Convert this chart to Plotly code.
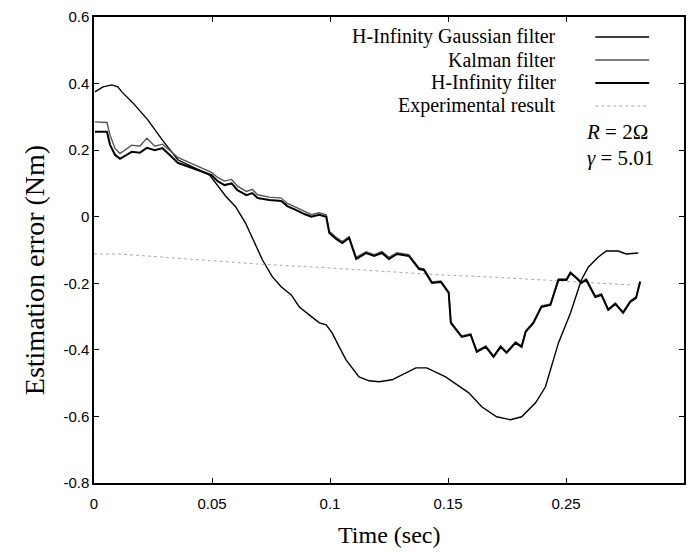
import plotly.graph_objects as go

# ---- data (time in axis units, error in Nm) ----
t_gauss = [0.0004, 0.0038, 0.0076, 0.0101, 0.0118, 0.0165, 0.0228, 0.029, 0.0355, 0.046, 0.049,
           0.056, 0.060, 0.0642, 0.068, 0.0714, 0.0756, 0.0794, 0.0836, 0.087, 0.0912, 0.0955,
           0.0984, 0.1009, 0.1039, 0.1068, 0.1123, 0.1166, 0.1208, 0.1263, 0.1364, 0.141, 0.149,
           0.1588, 0.1643, 0.1706, 0.1765, 0.1812, 0.1871, 0.1913, 0.1968, 0.2019, 0.2065, 0.2095,
           0.2137, 0.2171, 0.2221, 0.2255, 0.2306]
v_gauss = [0.375, 0.390, 0.396, 0.390, 0.375, 0.342, 0.291, 0.23, 0.171, 0.135, 0.125,
           0.06, 0.03, -0.019, -0.079, -0.13, -0.181, -0.211, -0.235, -0.271, -0.295, -0.319,
           -0.325, -0.349, -0.391, -0.43, -0.481, -0.493, -0.496, -0.49, -0.454, -0.454, -0.481,
           -0.529, -0.571, -0.601, -0.61, -0.601, -0.559, -0.511, -0.379, -0.289, -0.19, -0.151,
           -0.121, -0.103, -0.103, -0.112, -0.109]

t_filt = [0.0004, 0.0055, 0.0068, 0.0089, 0.011, 0.0139, 0.016, 0.0194, 0.0224, 0.0258, 0.029,
          0.032, 0.0355, 0.046, 0.0498, 0.0524, 0.0553, 0.0583, 0.0608, 0.0646, 0.0671, 0.0693,
          0.0743, 0.0794, 0.0819, 0.0857, 0.0891, 0.0921, 0.0954, 0.0984, 0.0997, 0.1026, 0.1052,
          0.1081, 0.1111, 0.1153, 0.1187, 0.122, 0.125, 0.1284, 0.1334, 0.1377, 0.1398, 0.1432,
          0.147, 0.1503, 0.1512, 0.1558, 0.1596, 0.1622, 0.166, 0.1693, 0.1723, 0.1748, 0.1786,
          0.1812, 0.1829, 0.1862, 0.1896, 0.1934, 0.1968, 0.2002, 0.2019, 0.2044, 0.2065, 0.2086,
          0.2124, 0.215, 0.2179, 0.2209, 0.2242, 0.2272, 0.2297, 0.2314]
v_hinf = [0.255, 0.255, 0.216, 0.186, 0.174, 0.186, 0.195, 0.192, 0.207, 0.2, 0.206,
          0.186, 0.162, 0.135, 0.125, 0.107, 0.095, 0.1, 0.08, 0.065, 0.071, 0.056,
          0.05, 0.047, 0.032, 0.02, 0.008, 0.0, 0.006, 0.0, -0.049, -0.067, -0.079,
          -0.064, -0.127, -0.109, -0.118, -0.109, -0.127, -0.112, -0.118, -0.157, -0.16, -0.199,
          -0.196, -0.229, -0.319, -0.361, -0.355, -0.406, -0.391, -0.421, -0.391, -0.409, -0.379,
          -0.391, -0.346, -0.319, -0.271, -0.265, -0.19, -0.19, -0.169, -0.184, -0.199, -0.19,
          -0.241, -0.235, -0.28, -0.262, -0.289, -0.256, -0.244, -0.196]
v_kalman = [0.285, 0.283, 0.245, 0.205, 0.19, 0.205, 0.215, 0.212, 0.236, 0.212, 0.218,
            0.2, 0.178, 0.145, 0.133, 0.118, 0.107, 0.112, 0.092, 0.076, 0.082, 0.066,
            0.059, 0.056, 0.04, 0.028, 0.015, 0.006, 0.012, 0.006, -0.044, -0.062, -0.075,
            -0.06, -0.122, -0.105, -0.114, -0.105, -0.122, -0.108, -0.114, -0.154, -0.157, -0.196,
            -0.193, -0.226, -0.316, -0.358, -0.352, -0.403, -0.388, -0.418, -0.388, -0.406, -0.376,
            -0.388, -0.343, -0.316, -0.268, -0.262, -0.187, -0.187, -0.166, -0.181, -0.196, -0.187,
            -0.238, -0.232, -0.277, -0.259, -0.286, -0.253, -0.241, -0.193]

t_exp = [0.0, 0.0106, 0.04, 0.055, 0.069, 0.093, 0.1216, 0.1474, 0.1651, 0.1871, 0.2052, 0.2276]
v_exp = [-0.112, -0.112, -0.127, -0.135, -0.142, -0.151, -0.163, -0.175, -0.18, -0.19, -0.196, -0.205]

x_tickvals = [0, 0.05, 0.1, 0.15, 0.2, 0.25]
x_ticktext = ["0", "0.05", "0.1", "0.15", "0.25", "0.3"]
y_tickvals = [-0.8, -0.6, -0.4, -0.2, 0, 0.2, 0.4, 0.6]
y_ticktext = ["-0.8", "-0.6", "-0.4", "-0.2", "0", "0.2", "0.4", "0.6"]

legend_names = ["H-Infinity Gaussian filter", "Kalman filter", "H-Infinity filter", "Experimental result"]

SERIF = "Times New Roman, Liberation Serif, serif"
SANS = "Arial, Liberation Sans, sans-serif"

W, H = 690, 553
L, R, T, B = 94, 686, 17, 483

styles = [dict(color="black", width=1.4),
          dict(color="#555555", width=1.4),
          dict(color="black", width=2.0),
          dict(color="#aaaaaa", width=1.0, dash="dot")]

fig = go.Figure()
fig.add_trace(go.Scatter(x=t_gauss, y=v_gauss, mode="lines", line=styles[0], name=legend_names[0]))
fig.add_trace(go.Scatter(x=t_exp, y=v_exp, mode="lines", line=styles[3], name=legend_names[3]))
fig.add_trace(go.Scatter(x=t_filt, y=v_kalman, mode="lines", line=styles[1], name=legend_names[1]))
fig.add_trace(go.Scatter(x=t_filt, y=v_hinf, mode="lines", line=styles[2], name=legend_names[2]))

def px(xp):
    return (xp - L) / (R - L)

def py(yp):
    return (B - yp) / (B - T)

annotations = []
shapes = []
rows_y = [37, 60, 83, 106]
for name, yy, st in zip(legend_names, rows_y, styles):
    annotations.append(dict(x=px(560), y=py(yy), xref="paper", yref="paper", text=name,
                            showarrow=False, xanchor="right", yanchor="middle",
                            font=dict(family=SERIF, size=20, color="black")))
    shapes.append(dict(type="line", xref="paper", yref="paper", x0=px(597), x1=px(651),
                       y0=py(yy), y1=py(yy), line=st))

annotations.append(dict(x=px(652), y=py(132), xref="paper", yref="paper",
                        text="<i>R</i> = 2Ω", showarrow=False, xanchor="right", yanchor="middle",
                        font=dict(family=SERIF, size=21, color="black")))
annotations.append(dict(x=px(658), y=py(158), xref="paper", yref="paper",
                        text="<i>γ</i> = 5.01", showarrow=False, xanchor="right", yanchor="middle",
                        font=dict(family=SERIF, size=21, color="black")))
annotations.append(dict(x=px(390), y=py(535), xref="paper", yref="paper",
                        text="Time (sec)", showarrow=False, xanchor="center", yanchor="middle",
                        font=dict(family=SERIF, size=24, color="black")))
annotations.append(dict(x=px(34), y=py(270), xref="paper", yref="paper",
                        text="Estimation error (Nm)", showarrow=False, xanchor="center", yanchor="middle",
                        textangle=-90, font=dict(family=SERIF, size=28, color="black")))

axis_common = dict(showgrid=False, zeroline=False, showline=True, linecolor="black", linewidth=1.5,
                   mirror="ticks", ticks="inside", ticklen=5, tickwidth=1.2, tickcolor="black",
                   tickfont=dict(family=SANS, size=15, color="black"))

fig.update_layout(
    width=W, height=H,
    margin=dict(l=L, r=W - R, t=T, b=H - B),
    paper_bgcolor="white", plot_bgcolor="white",
    showlegend=False,
    xaxis=dict(range=[0, 0.25], tickvals=x_tickvals, ticktext=x_ticktext,
               ticklabelstandoff=6, **axis_common),
    yaxis=dict(range=[-0.8, 0.6], tickvals=y_tickvals, ticktext=y_ticktext, **axis_common),
    annotations=annotations, shapes=shapes,
)

fig.write_html("out.html")
